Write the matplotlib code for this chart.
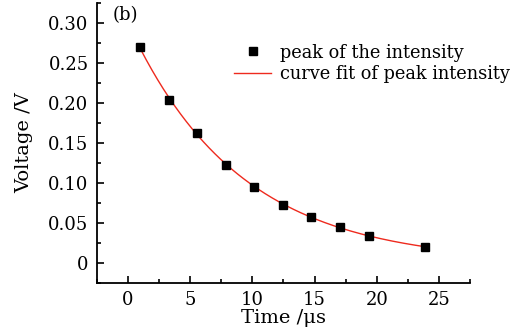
import numpy as np
import matplotlib.pyplot as plt
from matplotlib.ticker import MultipleLocator, FuncFormatter

time_us = [1.0, 3.3, 5.55, 7.9, 10.15, 12.45, 14.75, 17.05, 19.35, 23.9]
voltage = [0.270, 0.204, 0.162, 0.122, 0.095, 0.073, 0.0575, 0.0455, 0.0345, 0.020]

# exponential fit of the peaks (log-linear least squares)
t = np.array(time_us)
v = np.array(voltage)
k, b = np.polyfit(t, np.log(v), 1)
t_fit = np.linspace(t.min(), t.max(), 200)
v_fit = np.exp(b + k * t_fit)

plt.rcParams['font.family'] = 'DejaVu Serif'
plt.rcParams['mathtext.fontset'] = 'dejavuserif'

fig = plt.figure(figsize=(5.24, 3.30), dpi=100)
ax = fig.add_axes([0.185, 0.142, 0.712, 0.849])

ax.plot(t, v, 's', color='black', markersize=6, label='peak of the intensity', zorder=3)
ax.plot(t_fit, v_fit, color='#ee2a1e', linewidth=1.0, label='curve fit of peak intensity')

ax.set_xlim(-2.5, 27.5)
ax.set_ylim(-0.025, 0.325)
ax.xaxis.set_major_locator(MultipleLocator(5))
ax.xaxis.set_minor_locator(MultipleLocator(2.5))
ax.yaxis.set_major_locator(MultipleLocator(0.05))
ax.yaxis.set_minor_locator(MultipleLocator(0.025))
ax.yaxis.set_major_formatter(FuncFormatter(lambda y, p: '0' if abs(y) < 1e-9 else '%.2f' % y))

ax.spines['top'].set_visible(False)
ax.spines['right'].set_visible(False)
for s in ['left', 'bottom']:
    ax.spines[s].set_linewidth(1.3)
ax.tick_params(which='both', direction='in', width=1.2, labelsize=13, pad=6)
ax.tick_params(which='major', length=5)
ax.tick_params(which='minor', length=3)

ax.set_xlabel('Time /μs', fontsize=14, labelpad=0)
ax.set_ylabel('Voltage /V', fontsize=14, labelpad=11)

ax.text(0.043, 0.955, '(b)', transform=ax.transAxes, fontsize=13, va='center', ha='left')

ax.legend(loc='upper left', bbox_to_anchor=(0.367, 0.855), frameon=False, fontsize=12.8,
          handlelength=2.1, handletextpad=0.5, labelspacing=0.2, borderaxespad=0, borderpad=0)

plt.savefig('out.png', dpi=100)
